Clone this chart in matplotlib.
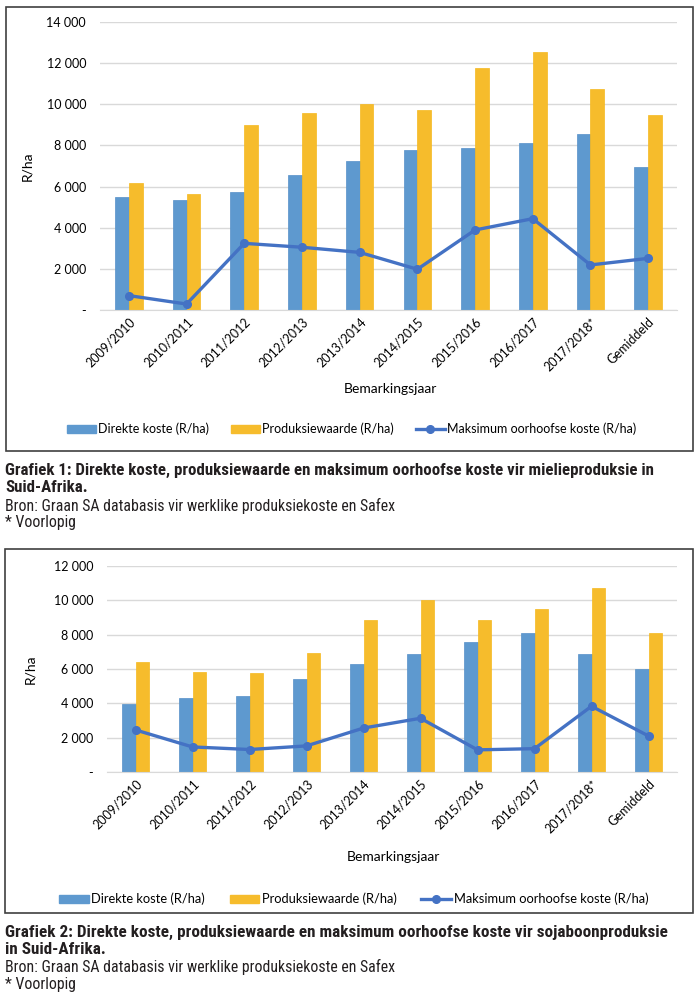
import matplotlib
matplotlib.use("Agg")
import matplotlib.pyplot as plt
import numpy as np
from matplotlib.patches import Rectangle, Patch
from matplotlib.lines import Line2D
from matplotlib.ticker import FuncFormatter
from matplotlib import font_manager

categories = ["2009/2010", "2010/2011", "2011/2012", "2012/2013", "2013/2014",
              "2014/2015", "2015/2016", "2016/2017", "2017/2018*", "Gemiddeld"]

mielie_direk = [5480, 5350, 5750, 6580, 7230, 7760, 7890, 8130, 8540, 6970]
mielie_prod = [6170, 5650, 8980, 9590, 10000, 9710, 11780, 12560, 10730, 9460]
mielie_oorhoof = [700, 290, 3240, 3050, 2800, 1980, 3890, 4440, 2190, 2510]

soja_direk = [3940, 4330, 4450, 5420, 6270, 6850, 7590, 8100, 6890, 6000]
soja_prod = [6410, 5810, 5790, 6930, 8850, 10000, 8870, 9480, 10740, 8100]
soja_oorhoof = [2450, 1460, 1310, 1520, 2560, 3130, 1290, 1360, 3830, 2100]

legend_labels = ["Direkte koste (R/ha)", "Produksiewaarde (R/ha)", "Maksimum oorhoofse koste (R/ha)"]

caption1 = ["Grafiek 1: Direkte koste, produksiewaarde en maksimum oorhoofse koste vir mielieproduksie in",
            "Suid-Afrika."]
caption2 = ["Grafiek 2: Direkte koste, produksiewaarde en maksimum oorhoofse koste vir sojaboonproduksie",
            "in Suid-Afrika."]
bron = "Bron: Graan SA databasis vir werklike produksiekoste en Safex"
voorlopig = "* Voorlopig"

BLUE = "#5E99CF"
YELLOW = "#F6BC2C"
LINE = "#4472C4"
GRID = "#D9D9D9"
CHART_FONT = ["Lato", "DejaVu Sans"]

# pick a condensed family (preferably one with a bold face) if one is installed
entries = font_manager.fontManager.ttflist
cond = {}
for f in entries:
    if "Narrow" in f.name or "Condensed" in f.name:
        w = f.weight if isinstance(f.weight, int) else 400
        cond.setdefault(f.name, set()).add(w)
pref = ["Liberation Sans Narrow", "Roboto Condensed", "Open Sans Condensed", "Noto Sans Condensed"]
bold_fams = [n for n in cond if any(w >= 600 for w in cond[n])]
reg_fams = [n for n in cond if any(w < 600 for w in cond[n])]
def pick(fams):
    for p in pref:
        if p in fams:
            return [p]
    return sorted(fams)[:1]
CAP_BOLD = pick(bold_fams) + ["Liberation Sans", "DejaVu Sans"]
CAP_REG = pick(reg_fams) + ["Liberation Sans", "DejaVu Sans"]

W, H = 700, 1002
fig = plt.figure(figsize=(W / 100, H / 100), dpi=100)
renderer = fig.canvas.get_renderer()

def fx(x):
    return x / W

def fy(y):
    return 1 - y / H

def fmt(v, pos):
    if abs(v) < 1e-6:
        return "-"
    return f"{int(v):,}".replace(",", " ")

def draw_chart(box, plot, direk, prod, oorhoof, ymax, xlabel_xy, legend_y, legend_x, ylabel_x,
               leg_size, leg_space):
    bx0, by0, bx1, by1 = box
    fig.patches.append(Rectangle((fx(bx0), fy(by1)), fx(bx1 - bx0), (by1 - by0) / H,
                                 transform=fig.transFigure, fill=False,
                                 edgecolor="#404040", linewidth=1.2))
    px0, py0, px1, py1 = plot
    ax = fig.add_axes([fx(px0), fy(py1), fx(px1 - px0), (py1 - py0) / H])
    x = np.arange(len(categories))
    w = 0.24
    ax.bar(x - w / 2, direk, width=w, color=BLUE, edgecolor="#5590C8", linewidth=0.5, zorder=2)
    ax.bar(x + w / 2, prod, width=w, color=YELLOW, edgecolor="#F5B81F", linewidth=0.5, zorder=2)
    ax.plot(x, oorhoof, color=LINE, linewidth=2.4, marker="o", markersize=5.5, zorder=3)
    ax.set_xlim(-0.5, len(categories) - 0.5)
    ax.set_ylim(0, ymax)
    ax.set_yticks(np.arange(0, ymax + 1, 2000))
    ax.yaxis.set_major_formatter(FuncFormatter(fmt))
    ax.grid(axis="y", color=GRID, linewidth=1, zorder=0)
    ax.set_axisbelow(True)
    for s in ["top", "right", "left"]:
        ax.spines[s].set_visible(False)
    ax.spines["bottom"].set_color(GRID)
    ax.tick_params(axis="both", length=0, labelsize=9)
    ax.tick_params(axis="y", pad=10)
    ax.set_xticks(x)
    ax.set_xticklabels(categories, rotation=45, ha="right", va="top",
                       rotation_mode="anchor", fontsize=9, family=CHART_FONT)
    for lab in ax.get_yticklabels():
        lab.set_family(CHART_FONT)
    ax.tick_params(axis="x", pad=4)
    ax.set_ylabel("R/ha", fontsize=10, family=CHART_FONT)
    ax.yaxis.set_label_coords((ylabel_x - px0) / (px1 - px0), 0.5)
    fig.text(fx(xlabel_xy[0]), fy(xlabel_xy[1]), "Bemarkingsjaar", ha="center", va="center",
             fontsize=10, family=CHART_FONT)
    handles = [Patch(facecolor=BLUE, edgecolor=BLUE),
               Patch(facecolor=YELLOW, edgecolor=YELLOW),
               Line2D([0], [0], color=LINE, linewidth=2.4, marker="o", markersize=5.5)]
    fig.legend(handles, legend_labels, loc="center left",
               bbox_to_anchor=(fx(legend_x), fy(legend_y)), ncol=3, frameon=False,
               prop={"family": CHART_FONT, "size": leg_size}, handlelength=2.3,
               handleheight=0.6, handletextpad=0.2, columnspacing=leg_space,
               borderpad=0, borderaxespad=0)
    return ax

draw_chart((6, 7, 693, 451), (100, 22, 677, 310), mielie_direk, mielie_prod, mielie_oorhoof,
           14000, (390, 389), 429, 67, 33, 9, 1.75)
draw_chart((5, 549, 693, 913), (107, 566, 677, 772), soja_direk, soja_prod, soja_oorhoof,
           12000, (393, 857), 899, 59, 36, 9.3, 1.9)

def caption(y, text, bold=False, target_right=None, size=10.3):
    t = fig.text(fx(5), fy(y), text, ha="left", va="center", fontsize=size,
                 fontweight="bold" if bold else "normal",
                 family=CAP_BOLD if bold else CAP_REG, color="#231F20")
    if target_right is not None:
        wpx = t.get_window_extent(renderer=renderer).width
        t.set_fontsize(size * (target_right - 5) / wpx)
    return t

s1 = caption(470, caption1[0], True, target_right=648).get_fontsize()
caption(488, caption1[1], True, size=s1)
sb = caption(506, bron, False, target_right=395).get_fontsize()
caption(523, voorlopig, False, size=sb)

s2 = caption(932, caption2[0], True, target_right=662).get_fontsize()
caption(950, caption2[1], True, size=s2)
caption(967, bron, False, size=sb)
caption(985, voorlopig, False, size=sb)

fig.savefig("out.png", dpi=100)
